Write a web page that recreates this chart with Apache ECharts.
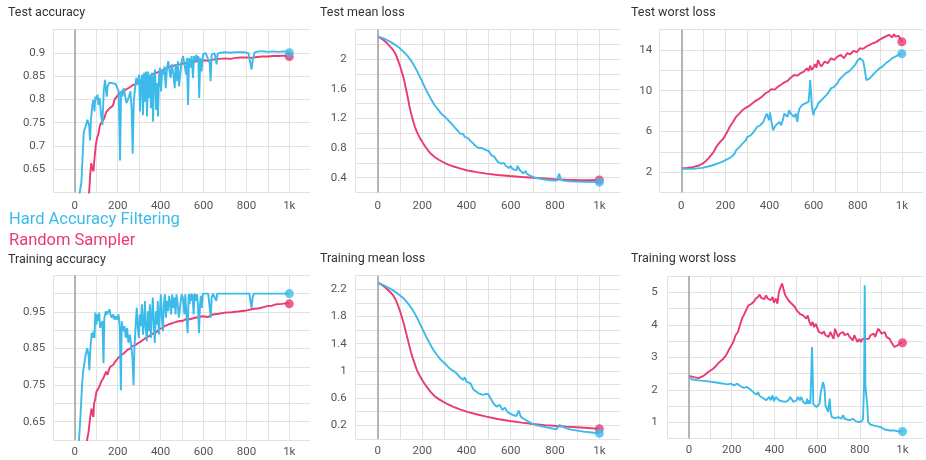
<!DOCTYPE html>
<html><head><meta charset="utf-8">
<script src="https://cdn.jsdelivr.net/npm/echarts@6/dist/echarts.min.js"></script>
<style>html,body{margin:0;padding:0;background:#fff}#c{width:926px;height:460px}</style>
</head><body><div id="c"></div>
<script>
// ---------- DATA (step, value) ----------
const seriesNames = ['Hard Accuracy Filtering', 'Random Sampler'];
const panelTitles = ['Test accuracy', 'Test mean loss', 'Test worst loss', 'Training accuracy', 'Training mean loss', 'Training worst loss'];
const xTickLabels = {0:'0', 200:'200', 400:'400', 600:'600', 800:'800', 1000:'1k'};

const testAccHard = [[0,0.1],[10,0.3],[23,0.6],[31,0.622],[42,0.73],[50,0.741],[59,0.756],[67,0.745],[71,0.712],[76,0.759],[82,0.788],[87,0.799],[92,0.774],[96,0.806],[101,0.799],[106,0.81],[110,0.788],[116,0.803],[123,0.766],[129,0.745],[135,0.817],[141,0.842],[145,0.839],[149,0.806],[153,0.828],[160,0.835],[168,0.831],[174,0.835],[182,0.831],[190,0.833],[197,0.835],[205,0.817],[211,0.669],[216,0.817],[222,0.806],[228,0.824],[234,0.81],[241,0.792],[247,0.788],[253,0.806],[259,0.817],[265,0.781],[270,0.683],[275,0.795],[281,0.824],[287,0.846],[293,0.831],[300,0.853],[304,0.774],[309,0.839],[314,0.853],[318,0.766],[323,0.857],[327,0.795],[332,0.86],[337,0.763],[342,0.86],[346,0.803],[351,0.853],[355,0.781],[360,0.857],[365,0.752],[369,0.846],[374,0.864],[379,0.777],[383,0.835],[388,0.763],[393,0.853],[397,0.868],[402,0.817],[408,0.864],[413,0.853],[418,0.871],[424,0.824],[430,0.868],[436,0.882],[442,0.86],[447,0.846],[453,0.875],[460,0.853],[466,0.824],[470,0.875],[475,0.839],[481,0.882],[486,0.828],[490,0.828],[498,0.882],[505,0.893],[512,0.889],[519,0.853],[523,0.889],[528,0.788],[533,0.889],[539,0.868],[545,0.893],[551,0.846],[556,0.893],[562,0.882],[567,0.896],[572,0.882],[576,0.893],[580,0.803],[585,0.889],[591,0.86],[598,0.897],[604,0.9],[610,0.899],[616,0.893],[623,0.889],[629,0.878],[633,0.839],[638,0.896],[644,0.9],[652,0.899],[656,0.889],[661,0.875],[666,0.898],[678,0.9],[701,0.901],[725,0.9],[748,0.901],[771,0.901],[795,0.901],[810,0.899],[817,0.882],[824,0.864],[830,0.886],[839,0.901],[856,0.903],[880,0.903],[903,0.902],[926,0.903],[949,0.902],[972,0.903],[991,0.902],[1000,0.9]];
const testAccRand = [[0,0.1],[20,0.3],[40,0.45],[55,0.55],[67,0.6],[73,0.645],[77,0.663],[82,0.652],[87,0.645],[92,0.673],[98,0.702],[104,0.717],[110,0.725],[116,0.742],[121,0.748],[126,0.752],[132,0.755],[138,0.76],[143,0.768],[147,0.773],[155,0.771],[163,0.781],[170,0.783],[178,0.787],[186,0.8],[195,0.8],[203,0.81],[212,0.813],[222,0.818],[233,0.82],[241,0.823],[253,0.825],[262,0.827],[272,0.831],[284,0.832],[293,0.831],[303,0.839],[318,0.842],[333,0.846],[349,0.85],[357,0.849],[365,0.854],[380,0.857],[396,0.86],[411,0.863],[427,0.866],[442,0.87],[458,0.872],[473,0.874],[489,0.875],[505,0.877],[520,0.878],[535,0.877],[550,0.88],[575,0.882],[600,0.884],[625,0.883],[650,0.886],[675,0.887],[700,0.888],[725,0.887],[750,0.889],[775,0.89],[800,0.89],[825,0.889],[850,0.891],[875,0.892],[900,0.892],[925,0.893],[950,0.893],[975,0.894],[1000,0.892]];

const testMeanHard = [[0,2.307],[25,2.28],[53,2.24],[75,2.2],[98,2.149],[118,2.095],[136,2.036],[152,1.97],[166,1.9],[178,1.835],[189,1.765],[200,1.7],[211,1.629],[222,1.56],[234,1.494],[245,1.435],[256,1.381],[268,1.335],[279,1.29],[290,1.255],[302,1.223],[313,1.19],[324,1.155],[332,1.13],[339,1.11],[347,1.08],[354,1.064],[362,1.03],[370,0.997],[377,0.98],[385,0.99],[392,0.951],[400,0.965],[407,0.935],[415,0.906],[422,0.92],[428,0.87],[433,0.85],[440,0.83],[447,0.84],[455,0.8],[463,0.78],[470,0.8],[478,0.79],[486,0.775],[493,0.8],[501,0.76],[507,0.73],[513,0.7],[520,0.72],[527,0.68],[535,0.64],[543,0.61],[550,0.63],[557,0.59],[563,0.567],[570,0.6],[577,0.56],[584,0.545],[592,0.53],[600,0.56],[607,0.52],[615,0.51],[626,0.5],[631,0.56],[636,0.585],[641,0.5],[648,0.48],[656,0.46],[663,0.45],[668,0.49],[673,0.45],[680,0.43],[694,0.418],[717,0.395],[747,0.377],[777,0.365],[807,0.36],[813,0.36],[819,0.454],[825,0.38],[837,0.36],[867,0.35],[927,0.345],[1000,0.34]];
const testMeanRand = [[0,2.307],[20,2.27],[38,2.226],[55,2.17],[68,2.127],[80,2.07],[90,1.99],[100,1.91],[110,1.81],[120,1.7],[128,1.584],[136,1.47],[143,1.358],[150,1.27],[158,1.177],[167,1.09],[176,1.019],[188,0.945],[200,0.884],[213,0.825],[226,0.77],[240,0.722],[256,0.68],[275,0.642],[294,0.612],[315,0.58],[339,0.554],[370,0.525],[400,0.5],[445,0.475],[490,0.454],[540,0.437],[596,0.422],[650,0.41],[701,0.4],[755,0.39],[807,0.377],[850,0.372],[897,0.368],[950,0.366],[1000,0.37]];

const testWorstHard = [[0,2.32],[51,2.32],[95,2.42],[139,2.65],[182,2.98],[212,3.31],[226,3.47],[241,3.8],[248,4.13],[255,3.97],[263,4.46],[270,4.3],[277,4.79],[285,4.62],[292,5.12],[299,5.45],[307,5.28],[314,5.61],[321,5.78],[328,5.94],[336,6.1],[343,6.43],[350,6.27],[358,6.6],[365,6.76],[372,6.93],[380,7.09],[387,7.75],[394,7.91],[398,7.1],[402,7.85],[409,6.93],[416,6.1],[423,6.43],[431,6.66],[438,6.76],[445,6.93],[453,6.6],[460,7.09],[467,7.75],[474,7.91],[482,7.42],[489,8.08],[496,7.75],[504,7.91],[511,7.42],[518,7.75],[526,6.93],[530,7.75],[536,8.24],[541,8.41],[547,8.57],[555,8.41],[562,8.74],[569,8.57],[577,8.9],[581,9.89],[584,11.04],[588,9.89],[592,8.41],[599,7.59],[604,8.08],[610,8.24],[615,8.41],[620,8.74],[628,8.57],[635,9.07],[642,8.9],[650,9.39],[657,9.23],[664,9.72],[672,9.89],[679,10.22],[686,10.05],[693,10.38],[701,10.55],[708,10.71],[715,11.04],[723,10.88],[730,11.37],[737,11.53],[745,11.7],[752,11.53],[759,11.86],[766,12.03],[774,12.19],[781,12.26],[788,12.52],[796,12.85],[803,12.68],[810,13.18],[818,13.34],[825,12.9],[832,12.03],[839,11.04],[846,10.88],[854,11.2],[861,11.37],[868,11.53],[876,11.7],[883,11.86],[890,12.03],[898,12.19],[905,12.26],[912,12.36],[927,12.68],[942,12.9],[956,13.18],[971,13.34],[985,13.51],[1000,13.62]];
const testWorstRand = [[0,2.39],[25,2.42],[51,2.49],[80,2.65],[102,2.91],[124,3.38],[146,3.97],[161,4.56],[175,4.95],[190,5.28],[204,5.78],[219,6.43],[234,6.93],[248,7.42],[263,7.75],[277,8.08],[292,8.31],[306,8.47],[321,8.74],[335,8.97],[350,9.16],[365,9.39],[380,9.72],[394,9.89],[409,10.15],[423,10.1],[438,10.38],[453,10.6],[467,10.81],[482,10.95],[496,11.27],[511,11.53],[526,11.47],[540,11.7],[555,11.86],[569,12.19],[577,11.93],[584,12.45],[591,12.03],[599,12.26],[606,12.59],[613,12.26],[620,13.0],[628,12.59],[635,12.36],[650,12.85],[664,12.7],[679,13.18],[693,13.02],[708,13.34],[723,13.51],[737,13.18],[752,13.67],[766,13.57],[781,13.9],[796,13.77],[810,14.16],[825,14.1],[839,14.33],[854,14.49],[869,14.65],[883,14.76],[898,14.98],[912,15.15],[927,15.32],[942,15.48],[956,15.22],[964,15.55],[971,15.3],[985,15.38],[997,14.89],[1000,14.8]];

const trainAccHard = [[0,0.1],[10,0.35],[20,0.603],[26,0.658],[34,0.75],[39,0.787],[44,0.805],[51,0.833],[58,0.851],[64,0.833],[68,0.791],[73,0.851],[79,0.892],[84,0.879],[87,0.897],[92,0.879],[96,0.948],[101,0.915],[106,0.943],[110,0.925],[114,0.948],[118,0.906],[123,0.915],[129,0.925],[134,0.81],[138,0.934],[145,0.952],[149,0.943],[155,0.938],[162,0.957],[166,0.943],[172,0.934],[179,0.943],[185,0.929],[191,0.938],[197,0.929],[204,0.943],[210,0.906],[215,0.736],[219,0.925],[225,0.897],[232,0.911],[238,0.879],[244,0.906],[250,0.865],[257,0.888],[263,0.86],[269,0.824],[274,0.75],[278,0.851],[285,0.925],[289,0.961],[294,0.906],[299,0.879],[303,0.943],[308,0.911],[313,0.971],[318,0.888],[322,0.915],[327,0.98],[331,0.906],[336,0.87],[341,0.952],[345,0.897],[350,0.971],[355,0.879],[359,0.934],[364,0.989],[369,0.906],[373,0.865],[378,0.952],[383,0.915],[387,0.98],[392,0.888],[397,0.952],[401,0.998],[406,0.934],[411,0.897],[415,0.971],[420,0.998],[425,0.934],[429,0.98],[435,0.952],[440,0.994],[445,0.971],[449,0.943],[454,0.998],[460,0.961],[465,0.989],[470,0.943],[474,0.998],[480,0.971],[485,0.934],[490,0.934],[498,0.998],[504,0.989],[511,0.943],[515,0.998],[520,0.952],[526,0.892],[531,0.998],[535,0.971],[540,1.0],[545,0.98],[549,0.998],[554,0.943],[559,1.0],[565,0.98],[570,0.998],[574,0.971],[579,0.892],[584,0.971],[588,0.994],[592,0.961],[597,1.0],[607,1.0],[622,1.0],[629,1.0],[634,0.934],[638,0.989],[644,1.0],[653,1.0],[660,0.98],[664,1.0],[692,1.0],[739,1.0],[801,1.0],[814,1.0],[820,0.975],[824,0.961],[829,0.989],[835,1.0],[900,1.0],[960,1.0],[1000,1.0]];
const trainAccRand = [[0,0.1],[25,0.35],[45,0.5],[58,0.603],[64,0.621],[73,0.667],[78,0.686],[82,0.672],[87,0.663],[90,0.7],[96,0.713],[101,0.732],[107,0.736],[112,0.743],[117,0.75],[123,0.759],[129,0.755],[134,0.77],[140,0.767],[146,0.787],[152,0.778],[159,0.791],[165,0.8],[173,0.796],[179,0.805],[187,0.813],[194,0.816],[202,0.824],[210,0.822],[219,0.833],[229,0.837],[238,0.842],[247,0.847],[257,0.849],[266,0.856],[275,0.858],[285,0.86],[296,0.865],[306,0.868],[319,0.874],[331,0.879],[344,0.883],[356,0.888],[369,0.892],[381,0.895],[393,0.902],[406,0.906],[418,0.911],[431,0.914],[443,0.917],[459,0.92],[474,0.923],[490,0.925],[505,0.926],[521,0.931],[537,0.93],[560,0.934],[598,0.938],[620,0.936],[645,0.943],[670,0.945],[700,0.948],[730,0.949],[760,0.951],[801,0.954],[830,0.958],[860,0.96],[898,0.966],[920,0.967],[941,0.971],[965,0.972],[991,0.974],[1000,0.972]];

const trainMeanHard = [[0,2.298],[25,2.26],[53,2.215],[75,2.17],[98,2.117],[118,2.06],[136,1.994],[152,1.92],[166,1.847],[178,1.775],[189,1.7],[200,1.625],[211,1.553],[222,1.48],[234,1.406],[245,1.34],[256,1.283],[268,1.23],[279,1.185],[290,1.145],[302,1.112],[313,1.075],[324,1.038],[335,1.01],[347,0.989],[355,0.96],[362,0.94],[370,0.905],[377,0.92],[385,0.867],[392,0.905],[400,0.842],[407,0.86],[418,0.818],[425,0.77],[433,0.72],[445,0.695],[455,0.67],[463,0.695],[475,0.646],[486,0.66],[498,0.66],[505,0.62],[513,0.573],[524,0.515],[535,0.475],[543,0.45],[550,0.5],[563,0.426],[574,0.46],[584,0.401],[596,0.375],[611,0.35],[626,0.337],[636,0.416],[645,0.33],[656,0.3],[668,0.278],[680,0.255],[694,0.229],[717,0.2],[747,0.18],[777,0.16],[807,0.141],[813,0.14],[819,0.205],[825,0.19],[840,0.17],[867,0.14],[928,0.107],[965,0.095],[1000,0.082]];
const trainMeanRand = [[0,2.298],[20,2.26],[38,2.215],[55,2.16],[68,2.117],[80,2.05],[90,1.97],[100,1.88],[110,1.774],[120,1.66],[128,1.553],[136,1.45],[143,1.357],[150,1.27],[158,1.185],[167,1.1],[176,1.014],[188,0.935],[200,0.867],[213,0.8],[226,0.744],[240,0.685],[256,0.631],[275,0.585],[294,0.548],[315,0.51],[339,0.475],[370,0.435],[400,0.401],[445,0.362],[490,0.327],[540,0.293],[596,0.264],[650,0.24],[701,0.22],[755,0.203],[807,0.19],[850,0.18],[897,0.171],[950,0.16],[1000,0.148]];

const trainWorstHard = [[0,2.39],[15,2.32],[45,2.29],[90,2.26],[135,2.22],[180,2.17],[196,2.19],[211,2.14],[226,2.19],[241,2.11],[256,2.06],[271,2.09],[286,2.02],[301,1.93],[308,1.98],[316,1.85],[323,1.93],[331,1.81],[346,1.75],[361,1.68],[376,1.78],[383,1.68],[391,1.83],[398,1.65],[406,1.78],[421,1.68],[436,1.65],[451,1.63],[466,1.68],[474,1.78],[481,1.73],[489,1.63],[496,1.58],[504,1.68],[511,1.78],[519,1.68],[526,1.78],[534,1.63],[541,1.68],[549,1.57],[553,1.73],[558,1.57],[564,1.68],[568,1.57],[573,2.55],[576,3.32],[579,2.55],[582,1.57],[590,1.52],[597,1.47],[605,1.42],[611,1.57],[617,1.93],[623,2.09],[627,2.24],[632,2.14],[636,1.93],[639,1.52],[645,1.42],[651,1.32],[655,1.52],[659,1.73],[663,1.32],[669,1.16],[684,1.13],[699,1.16],[714,1.11],[722,1.22],[729,1.11],[737,1.13],[752,1.06],[767,1.11],[782,1.03],[797,1.01],[809,1.03],[815,1.11],[820,2.14],[823,5.22],[826,2.14],[830,2.09],[835,1.52],[839,1.01],[850,0.93],[872,0.89],[895,0.86],[917,0.78],[940,0.75],[962,0.75],[980,0.72],[1000,0.72]];
const trainWorstRand = [[0,2.43],[23,2.39],[45,2.36],[68,2.43],[90,2.55],[113,2.65],[128,2.75],[143,2.86],[158,2.94],[173,3.06],[188,3.25],[199,3.37],[207,3.47],[218,3.68],[229,3.78],[238,3.98],[248,4.19],[256,4.29],[263,4.39],[271,4.5],[278,4.6],[286,4.55],[293,4.65],[304,4.72],[313,4.81],[323,4.86],[331,4.93],[338,4.83],[346,4.89],[353,4.79],[361,4.91],[368,4.81],[376,4.86],[383,4.76],[391,4.86],[398,4.68],[406,4.81],[414,4.65],[421,5.01],[429,5.16],[436,5.27],[444,5.06],[451,4.91],[459,4.86],[466,4.75],[474,4.81],[481,4.65],[489,4.7],[496,4.55],[504,4.45],[511,4.5],[519,4.34],[526,4.39],[534,4.29],[541,4.34],[549,4.19],[556,4.29],[564,4.09],[571,3.98],[579,4.09],[586,3.93],[594,4.03],[602,3.88],[609,3.78],[617,3.83],[624,3.73],[632,3.8],[639,3.68],[647,3.73],[654,3.63],[662,3.78],[669,3.68],[677,3.57],[684,3.88],[692,3.73],[699,3.63],[707,3.73],[714,3.68],[722,3.78],[729,3.68],[737,3.63],[744,3.73],[752,3.63],[759,3.68],[767,3.52],[774,3.68],[782,3.57],[789,3.47],[797,3.57],[805,3.47],[812,3.57],[820,3.52],[827,3.57],[835,3.63],[842,3.57],[850,3.68],[857,3.63],[865,3.73],[872,3.63],[880,3.78],[887,3.88],[895,3.83],[902,3.73],[910,3.68],[917,3.78],[925,3.63],[932,3.68],[940,3.57],[947,3.47],[955,3.52],[962,3.32],[970,3.27],[977,3.37],[985,3.42],[992,3.45],[1000,3.45]];

// y-axis ranges / tick spacing / labelled ticks per panel
const yMins = [0.6, 0.2, 0, 0.6, 0, 0.5];
const yMaxs = [0.95, 2.4, 16, 1.05, 2.4, 5.5];
const ySteps = [0.05, 0.2, 2, 0.05, 0.2, 0.5];
const yLabelled = [
  [0.65, 0.7, 0.75, 0.8, 0.85, 0.9],
  [0.4, 0.8, 1.2, 1.6, 2],
  [2, 6, 10, 14],
  [0.65, 0.75, 0.85, 0.95],
  [0.2, 0.6, 1, 1.4, 1.8, 2.2],
  [1, 2, 3, 4, 5]
];

// ---------- LAYOUT / STYLE ----------
const BLUE = '#3cbbeb';
const PINK = '#ea3a72';
const grids = [
  {left: 53.3, top: 29.5, width: 256.6, height: 163},
  {left: 355.7, top: 29.5, width: 264.9, height: 163},
  {left: 659.3, top: 29.5, width: 272.6, height: 163},
  {left: 53.3, top: 275.3, width: 256.6, height: 164.7},
  {left: 355.7, top: 275.7, width: 264.9, height: 163.2},
  {left: 667.7, top: 276.1, width: 265.3, height: 162.5}
];
const titlePos = [[8, 6], [320, 6], [631, 6], [8, 253], [320, 252], [631, 252]];
const hardData = [testAccHard, testMeanHard, testWorstHard, trainAccHard, trainMeanHard, trainWorstHard];
const randData = [testAccRand, testMeanRand, testWorstRand, trainAccRand, trainMeanRand, trainWorstRand];
const FONT = 'Roboto';

const titles = panelTitles.map((t, i) => ({
  text: t, left: titlePos[i][0], top: titlePos[i][1], padding: 0,
  textStyle: {fontFamily: FONT, fontSize: 12.5, fontWeight: 'normal', color: '#333'}
}));
titles.push({text: seriesNames[0], left: 9, top: 211, padding: 0,
  textStyle: {fontFamily: FONT, fontSize: 16.5, fontWeight: 'normal', color: BLUE}});
titles.push({text: seriesNames[1], left: 9, top: 232, padding: 0,
  textStyle: {fontFamily: FONT, fontSize: 16.5, fontWeight: 'normal', color: PINK}});

const xAxes = grids.map((g, i) => ({
  type: 'value', gridIndex: i, min: -100, max: 1096, interval: 100,
  axisLine: {show: false}, axisTick: {show: false},
  splitLine: {show: true, showMaxLine: false, lineStyle: {color: '#e2e2e2', width: 1}},
  axisLabel: {
    formatter: v => (xTickLabels[Math.round(v)] !== undefined && Math.abs(v - Math.round(v)) < 1e-6) ? xTickLabels[Math.round(v)] : '',
    color: '#555', fontSize: 11.5, fontFamily: FONT, margin: i < 3 ? 8 : 6
  }
}));
const yAxes = grids.map((g, i) => ({
  type: 'value', gridIndex: i, min: yMins[i], max: yMaxs[i], interval: ySteps[i],
  axisLine: {show: false}, axisTick: {show: false},
  splitLine: {show: true, lineStyle: {color: '#e2e2e2', width: 1}},
  axisLabel: {
    formatter: v => {
      const hit = yLabelled[i].find(t => Math.abs(t - v) < 1e-6);
      return hit === undefined ? '' : String(hit);
    },
    color: '#555', fontSize: 11.5, fontFamily: FONT, margin: [8, 9, 7, 8, 9, 10][i]
  }
}));

const series = [];
grids.forEach((g, i) => {
  series.push({
    type: 'line', xAxisIndex: i, yAxisIndex: i, data: randData[i], showSymbol: false,
    lineStyle: {color: PINK, width: 1.9}, itemStyle: {color: PINK}, clip: true, silent: true, z: 2,
    markLine: {silent: true, symbol: 'none', label: {show: false}, animation: false,
      lineStyle: {color: '#a0a0a0', width: 1.5, type: 'solid'}, data: [{xAxis: 0}]}
  });
  series.push({
    type: 'line', xAxisIndex: i, yAxisIndex: i, data: hardData[i], showSymbol: false,
    lineStyle: {color: BLUE, width: 1.9}, itemStyle: {color: BLUE}, clip: true, silent: true, z: 3
  });
  series.push({
    type: 'scatter', xAxisIndex: i, yAxisIndex: i, data: [randData[i][randData[i].length - 1]],
    symbolSize: 9, itemStyle: {color: PINK}, silent: true, z: 4
  });
  series.push({
    type: 'scatter', xAxisIndex: i, yAxisIndex: i, data: [hardData[i][hardData[i].length - 1]],
    symbolSize: 9, itemStyle: {color: BLUE}, silent: true, z: 5
  });
});

const chart = echarts.init(document.getElementById('c'), null, {renderer: 'canvas'});
chart.setOption({
  animation: false,
  backgroundColor: '#fff',
  title: titles,
  grid: grids.map(g => Object.assign({containLabel: false}, g)),
  xAxis: xAxes,
  yAxis: yAxes,
  series: series
});
</script></body></html>
